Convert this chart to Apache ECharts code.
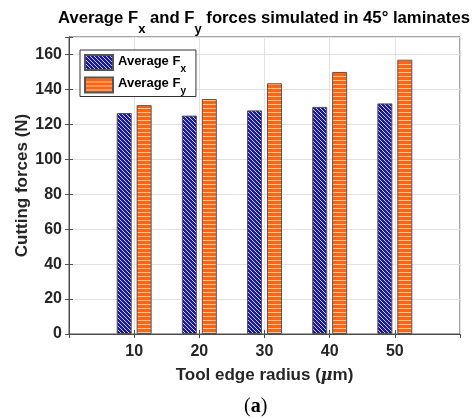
<!DOCTYPE html>
<html>
<head>
<meta charset="utf-8">
<script src="https://cdn.jsdelivr.net/npm/echarts@6/dist/echarts.min.js"></script>
<style>
  html, body { margin: 0; padding: 0; background: #fff; }
  #chart { width: 473px; height: 419px; }
</style>
</head>
<body>
<div id="chart"></div>
<script>
// Tool edge radius (µm) and the averaged simulated cutting forces (N)
const radii = [10, 20, 30, 40, 50];
const forceFx = [126.5, 125, 128, 130, 132];
const forceFy = [131, 134.5, 143.5, 150, 157];
const yTicks = [0, 20, 40, 60, 80, 100, 120, 140, 160];

// Hatched fills drawn pixel by pixel on small tiles
function makeTile(size, paint) {
  const c = document.createElement('canvas');
  c.width = size; c.height = size;
  const ctx = c.getContext('2d');
  const img = ctx.createImageData(size, size);
  for (let y = 0; y < size; y++) {
    for (let x = 0; x < size; x++) {
      const rgb = paint(x, y);
      const i = (y * size + x) * 4;
      img.data[i] = rgb[0]; img.data[i + 1] = rgb[1]; img.data[i + 2] = rgb[2]; img.data[i + 3] = 255;
    }
  }
  ctx.putImageData(img, 0, 0);
  return c;
}
const blueHatch = makeTile(4, (x, y) => ((x - y + 8) % 4 === 0 ? [200, 200, 240] : [28, 28, 150]));
const orangeHatch = makeTile(4, (x, y) => (y === 0 ? [255, 200, 150] : [255, 100, 20]));

const chart = echarts.init(document.getElementById('chart'), null, { renderer: 'canvas' });
const axisColor = '#4d4d4d';
const labelColor = '#262626';
const font = 'Liberation Sans, Arial, sans-serif';

chart.setOption({
  animation: false,
  title: {
    text: '{t|Average F}{s|x}{t| and F}{s|y}{t| forces simulated in 45° laminates}',
    left: 264, top: 10, textAlign: 'center', padding: 0,
    textStyle: {
      rich: {
        t: { fontFamily: font, fontWeight: 'bold', fontSize: 16.7, verticalAlign: 'top', color: '#000' },
        s: { fontFamily: font, fontWeight: 'bold', fontSize: 13, verticalAlign: 'top', padding: [13, 0, 0, 0], color: '#000' }
      }
    }
  },
  legend: {
    left: 80, top: 50, orient: 'vertical',
    backgroundColor: '#fff', borderColor: '#333', borderWidth: 1,
    padding: [0.5, 10, 0, 4], itemGap: -1, itemWidth: 28, itemHeight: 15,
    icon: 'rect',
    formatter: n => '{t|Average F}{s|' + n.slice(-1) + '}',
    textStyle: {
      rich: {
        t: { fontFamily: font, fontWeight: 'bold', fontSize: 13, lineHeight: 24, verticalAlign: 'top', padding: [4, 0, 0, 0], color: '#000' },
        s: { fontFamily: font, fontWeight: 'bold', fontSize: 10, verticalAlign: 'top', padding: [13.5, 0, 0, 0], color: '#000' }
      }
    }
  },
  grid: { left: 69, right: 13, top: 37, bottom: 85, show: true, borderColor: axisColor, borderWidth: 1 },
  xAxis: [{
    type: 'value', min: 0, max: 60, interval: 10,
    name: 'Tool edge radius ({i|μ}m)', nameLocation: 'middle', nameGap: 33, nameMoveOverlap: false,
    nameTextStyle: {
      fontFamily: font, fontWeight: 'bold', fontSize: 17, color: labelColor,
      rich: { i: { fontFamily: 'DejaVu Serif, serif', fontStyle: 'italic', fontSize: 16, color: labelColor } }
    },
    axisLine: { show: true, lineStyle: { color: axisColor } },
    axisTick: { show: true, inside: true, length: 4, lineStyle: { color: axisColor } },
    axisLabel: { showMinLabel: false, showMaxLabel: false, margin: 10, fontFamily: font, fontWeight: 'bold', fontSize: 16, color: labelColor },
    splitLine: { show: true, lineStyle: { color: '#e2e2e2' } }
  }, {
    type: 'value', position: 'top', min: 0, max: 60, interval: 10,
    axisLine: { show: true, lineStyle: { color: axisColor } },
    axisTick: { show: true, inside: true, length: 4, lineStyle: { color: axisColor } },
    axisLabel: { show: false }, splitLine: { show: false }
  }],
  yAxis: [{
    type: 'value', min: 0, max: 170, interval: 20,
    name: 'Cutting forces (N)', nameLocation: 'middle', nameGap: 38, nameMoveOverlap: false,
    nameTextStyle: { fontFamily: font, fontWeight: 'bold', fontSize: 17, color: labelColor },
    axisLine: { show: true, lineStyle: { color: axisColor } },
    axisTick: { show: true, inside: true, length: 4, lineStyle: { color: axisColor } },
    axisLabel: {
      margin: 7, fontFamily: font, fontWeight: 'bold', fontSize: 16, color: labelColor,
      formatter: v => (yTicks.indexOf(v) >= 0 ? String(v) : '')
    },
    splitLine: { show: true, lineStyle: { color: '#e2e2e2' } }
  }, {
    type: 'value', position: 'right', min: 0, max: 170, interval: 20,
    axisLine: { show: true, lineStyle: { color: axisColor } },
    axisTick: { show: true, inside: true, length: 4, lineStyle: { color: axisColor } },
    axisLabel: { show: false }, splitLine: { show: false }
  }],
  series: [{
    name: 'Average Fx', type: 'bar', barWidth: 15, barGap: '33%',
    data: radii.map((r, i) => [r, forceFx[i]]),
    itemStyle: { color: { image: blueHatch, repeat: 'repeat' }, borderColor: '#555', borderWidth: 1 }
  }, {
    name: 'Average Fy', type: 'bar', barWidth: 15, barGap: '33%',
    data: radii.map((r, i) => [r, forceFy[i]]),
    itemStyle: { color: { image: orangeHatch, repeat: 'repeat' }, borderColor: '#555', borderWidth: 1 }
  }],
  graphic: [{
    type: 'text', left: 244, top: 397,
    style: {
      text: '({b|a})',
      fontFamily: 'Liberation Serif, DejaVu Serif, serif', fontSize: 20, fill: '#000',
      rich: { b: { fontFamily: 'Liberation Serif, DejaVu Serif, serif', fontWeight: 'bold', fontSize: 20, fill: '#000' } }
    }
  }]
});
</script>
</body>
</html>
